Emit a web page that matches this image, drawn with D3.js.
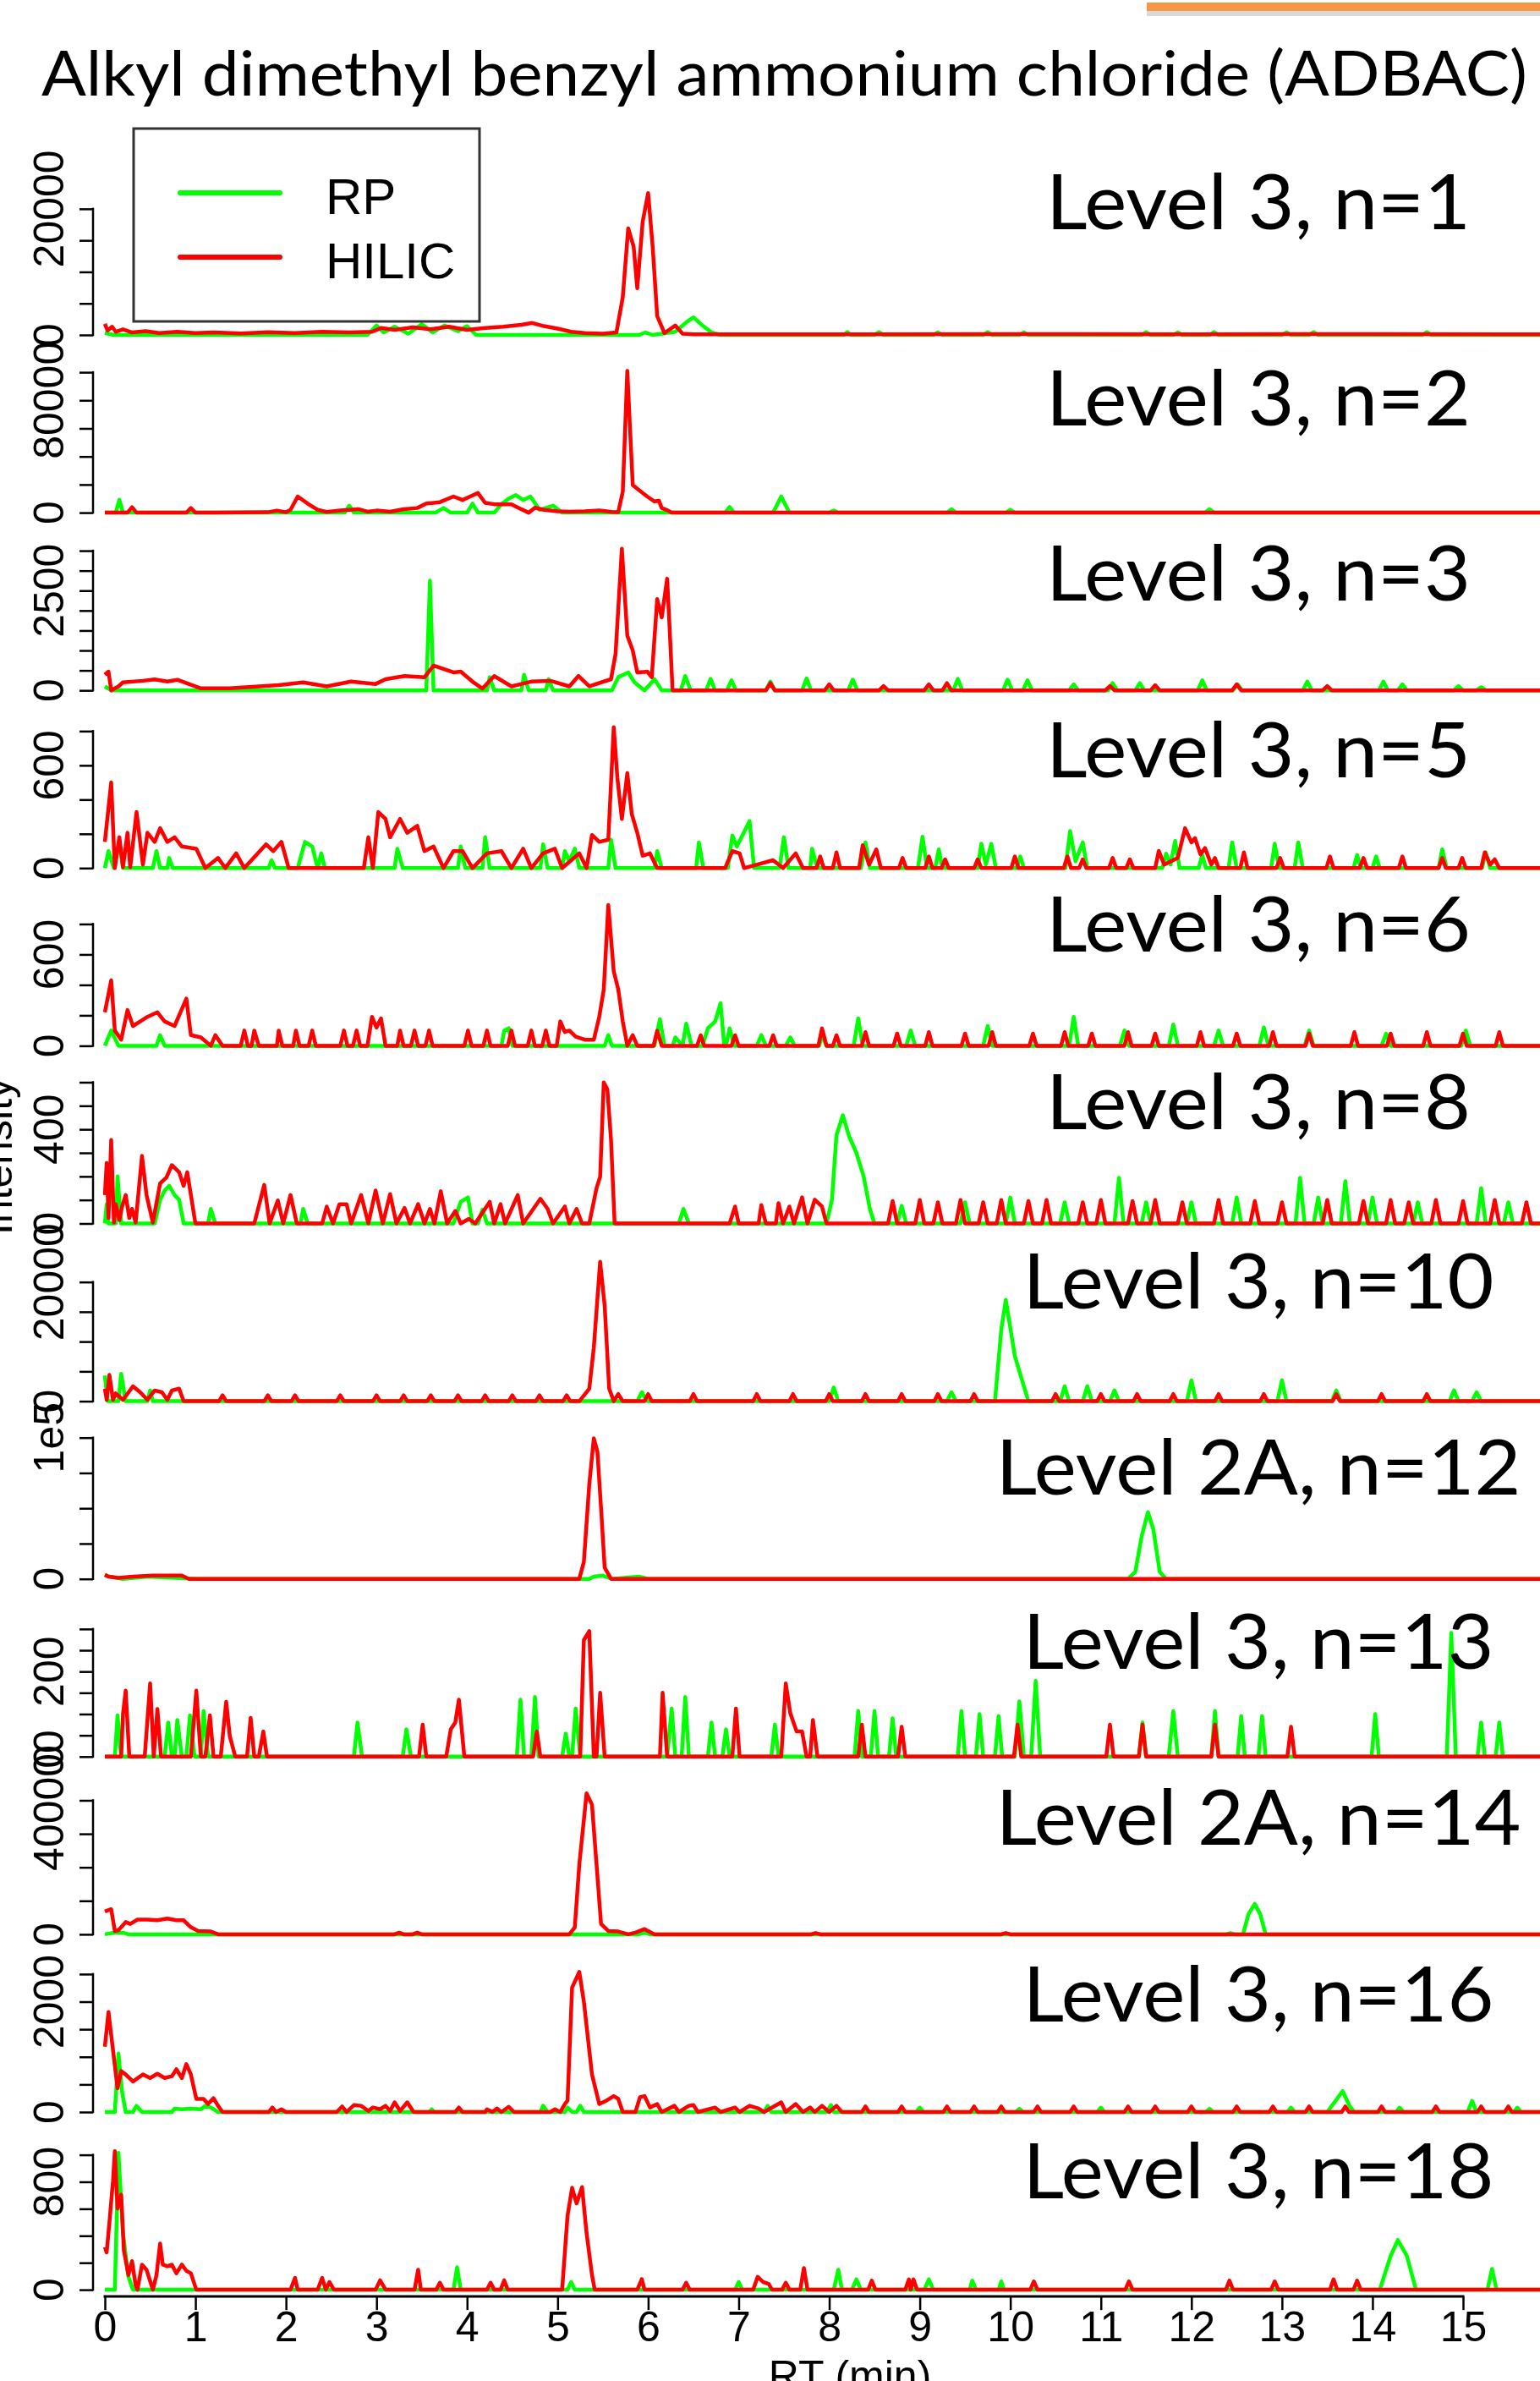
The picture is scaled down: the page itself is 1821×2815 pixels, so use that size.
<!DOCTYPE html>
<html>
<head>
<meta charset="utf-8">
<script src="https://cdn.jsdelivr.net/npm/d3@7"></script>
<style>
  body { margin: 0; background: #fff; }
  svg { display: block; }
</style>
</head>
<body>
<svg id="chart" width="1821" height="2815"></svg>
<script>
// ---- data (RT in minutes, intensity in counts) ----

const TITLE = 'Alkyl dimethyl benzyl ammonium chloride (ADBAC)';
const LEGEND = ['RP', 'HILIC'];
const RT_TICKS = d3.range(0, 16);

const panelLabels = ['Level 3, n=1', 'Level 3, n=2', 'Level 3, n=3', 'Level 3, n=5',
  'Level 3, n=6', 'Level 3, n=8', 'Level 3, n=10', 'Level 2A, n=12',
  'Level 3, n=13', 'Level 2A, n=14', 'Level 3, n=16', 'Level 3, n=18'];

// top of each intensity axis
const yMax = [22400, 100600, 3540, 825, 928, 600, 23700, 100000, 332, 421700, 2560, 1047];

const yTicks = [
  [0, 5000, 10000, 15000, 20000],
  [0, 20000, 40000, 60000, 80000, 100000],
  [0, 500, 1000, 1500, 2000, 2500, 3000, 3500],
  [0, 200, 400, 600, 800],
  [0, 200, 400, 600, 800],
  [0, 100, 200, 300, 400, 500, 600],
  [0, 5000, 10000, 15000, 20000],
  [0, 25000, 50000, 75000, 100000],
  [0, 50, 100, 150, 200, 250, 300],
  [0, 100000, 200000, 300000, 400000],
  [0, 500, 1000, 1500, 2000, 2500],
  [0, 200, 400, 600, 800, 1000]
];

const yLabels = [
  [[0, '0'], [20000, '20000']],
  [[0, '0'], [80000, '80000']],
  [[0, '0'], [2500, '2500']],
  [[0, '0'], [600, '600']],
  [[0, '0'], [600, '600']],
  [[0, '0'], [400, '400']],
  [[0, '0'], [20000, '20000']],
  [[0, '0'], [100000, '1e5']],
  [[0, '0'], [200, '200']],
  [[0, '0'], [400000, '400000']],
  [[0, '0'], [2000, '2000']],
  [[0, '0'], [800, '800']]
];

const rp1 = [[0,300],[0.1,0],[2.9,0],[3.0,1500],[3.08,400],[3.2,1300],[3.35,200],[3.5,1700],[3.62,400],[3.75,1500],[3.9,600],[4.0,1400],[4.1,0],[5.9,0],[5.97,400],[6.05,0],[6.3,500],[6.42,2000],[6.5,2800],[6.6,1500],[6.7,400],[6.8,0],[8.16,0],[8.2,450],[8.24,0],[8.5,0],[8.55,450],[8.6,0],[9.15,0],[9.2,400],[9.25,0],[9.7,0],[9.75,450],[9.8,0],[10.1,0],[10.15,400],[10.2,0],[11.45,0],[11.5,450],[11.55,0],[11.8,0],[11.85,400],[11.9,0],[12.2,0],[12.25,450],[12.3,0],[13.0,0],[13.05,400],[13.1,0],[13.3,0],[13.35,450],[13.4,0],[14.55,0],[14.6,450],[14.65,0],[15.9,0]];
const hilic1 = [[0,1750],[0.03,700],[0.08,1300],[0.12,500],[0.2,900],[0.3,400],[0.45,600],[0.6,300],[0.8,500],[1.0,300],[1.2,400],[1.5,250],[1.8,450],[2.1,300],[2.4,500],[2.7,400],[2.95,500],[3.05,1100],[3.2,800],[3.4,1200],[3.6,900],[3.8,1300],[4.0,800],[4.2,1100],[4.4,1300],[4.6,1600],[4.72,1900],[4.85,1400],[5.0,1000],[5.15,500],[5.3,300],[5.5,200],[5.65,400],[5.72,6000],[5.78,16900],[5.84,14000],[5.88,7400],[5.94,18000],[6.0,22500],[6.05,14000],[6.1,3000],[6.18,300],[6.3,1500],[6.38,200],[6.5,100],[8,100],[10,150],[12,100],[14,150],[15.9,100]];

const rp2 = [[0,0],[0.12,0],[0.16,9200],[0.2,0],[2.65,0],[2.7,5000],[2.75,0],[3.65,0],[3.74,3300],[3.82,0],[4.0,0],[4.06,6500],[4.12,0],[4.3,0],[4.38,6000],[4.46,10000],[4.54,12500],[4.62,9000],[4.7,11500],[4.8,2000],[4.95,5000],[5.05,0],[6.85,0],[6.9,4000],[6.95,0],[7.38,0],[7.47,11500],[7.56,0],[8.0,0],[8.05,1500],[8.1,0],[9.3,0],[9.35,2500],[9.4,0],[9.95,0],[10.0,2000],[10.05,0],[12.15,0],[12.2,2500],[12.25,0],[15.9,0]];
const hilic2 = [[0,0],[0.25,0],[0.3,3900],[0.35,0],[0.9,0],[0.95,3300],[1.0,0],[1.8,300],[1.9,1500],[2.0,300],[2.05,2000],[2.13,11500],[2.25,6000],[2.35,2000],[2.45,500],[2.6,1500],[2.8,2500],[2.9,700],[3.0,1500],[3.15,700],[3.3,2500],[3.45,3300],[3.55,6500],[3.7,7500],[3.85,11500],[3.95,9000],[4.05,12000],[4.12,14000],[4.2,7000],[4.3,6000],[4.49,5900],[4.55,4000],[4.68,0],[4.75,3500],[4.85,2000],[5.0,1000],[5.13,700],[5.3,1000],[5.46,1600],[5.6,500],[5.67,400],[5.72,15000],[5.77,101000],[5.8,60000],[5.83,19700],[5.9,16000],[5.99,11500],[6.07,8000],[6.12,8500],[6.15,3300],[6.22,1500],[6.26,0],[15.9,0]];

const rp3 = [[0,100],[0.07,0],[3.55,0],[3.59,2750],[3.63,0],[4.22,0],[4.25,330],[4.3,0],[4.6,0],[4.63,390],[4.68,0],[4.87,0],[4.9,280],[4.95,0],[5.6,0],[5.67,330],[5.78,450],[5.85,200],[5.96,0],[6.07,280],[6.15,0],[6.36,0],[6.41,360],[6.47,0],[6.64,0],[6.69,290],[6.74,0],[6.87,0],[6.92,250],[6.97,0],[7.3,0],[7.35,220],[7.4,0],[7.7,0],[7.75,300],[7.8,0],[8.21,0],[8.26,270],[8.31,0],[9.37,0],[9.42,290],[9.47,0],[9.92,0],[9.97,270],[10.02,0],[10.14,0],[10.19,250],[10.24,0],[10.65,0],[10.7,150],[10.75,0],[11.08,0],[11.13,180],[11.18,0],[11.38,0],[11.43,180],[11.48,0],[12.07,0],[12.12,250],[12.17,0],[12.46,0],[12.51,150],[12.56,0],[13.23,0],[13.28,220],[13.33,0],[14.07,0],[14.12,220],[14.17,0],[14.28,0],[14.33,150],[14.38,0],[14.9,0],[14.95,110],[15.0,0],[15.15,0],[15.2,80],[15.25,0],[15.9,0]];
const hilic3 = [[0,390],[0.04,470],[0.07,0],[0.15,100],[0.2,200],[0.42,240],[0.55,275],[0.69,220],[0.8,265],[1.06,50],[1.38,50],[1.92,130],[2.19,200],[2.45,100],[2.72,220],[2.99,160],[3.1,280],[3.31,360],[3.53,330],[3.63,620],[3.85,450],[3.93,470],[4.06,220],[4.17,45],[4.3,360],[4.49,100],[4.71,220],[4.92,240],[5.13,100],[5.23,360],[5.35,100],[5.59,280],[5.64,910],[5.71,3550],[5.77,1370],[5.83,1000],[5.88,450],[5.99,470],[6.04,330],[6.1,2290],[6.15,1830],[6.21,2800],[6.23,1900],[6.27,0],[7.3,0],[7.35,180],[7.4,0],[7.95,0],[8.0,150],[8.05,0],[8.55,0],[8.6,110],[8.65,0],[9.05,0],[9.1,150],[9.15,0],[9.25,0],[9.3,180],[9.35,0],[11.05,0],[11.1,110],[11.15,0],[11.55,0],[11.6,130],[11.65,0],[12.45,0],[12.5,150],[12.55,0],[13.45,0],[13.5,110],[13.55,0],[15.9,0]];

const rp4 = [[0,0],[0.04,99],[0.1,0],[0.16,153],[0.2,0],[0.53,0],[0.57,99],[0.61,0],[0.69,0],[0.71,59],[0.75,0],[1.81,0],[1.84,46],[1.88,0],[2.13,0],[2.21,153],[2.29,126],[2.35,0],[2.39,86],[2.43,0],[3.2,0],[3.23,113],[3.29,0],[3.9,0],[3.93,126],[3.98,0],[4.17,0],[4.2,180],[4.25,0],[4.81,0],[4.84,139],[4.89,0],[5.05,0],[5.08,99],[5.13,40],[5.19,113],[5.24,0],[5.56,0],[5.59,166],[5.64,0],[6.07,0],[6.1,99],[6.15,0],[6.53,0],[6.56,150],[6.61,0],[6.88,0],[6.93,190],[6.98,126],[7.12,274],[7.17,0],[7.45,0],[7.5,180],[7.55,0],[7.79,0],[7.81,113],[7.87,0],[8.35,0],[8.4,150],[8.45,0],[8.98,0],[9.03,183],[9.08,0],[9.17,0],[9.21,109],[9.25,0],[9.64,0],[9.68,142],[9.73,20],[9.79,142],[9.84,0],[10.07,0],[10.11,68],[10.15,0],[10.61,0],[10.66,216],[10.72,40],[10.8,150],[10.85,0],[11.68,0],[11.72,84],[11.77,20],[11.82,158],[11.87,0],[12.08,0],[12.12,76],[12.16,0],[12.41,0],[12.45,150],[12.5,0],[12.88,0],[12.92,142],[12.97,0],[13.14,0],[13.18,150],[13.23,0],[13.79,0],[13.83,76],[13.87,0],[14.0,0],[14.04,68],[14.08,0],[14.73,0],[14.77,109],[14.82,0],[15.21,0],[15.25,92],[15.3,0],[15.9,0]];
const hilic4 = [[0,153],[0.07,500],[0.11,0],[0.16,180],[0.2,5],[0.25,206],[0.28,5],[0.35,327],[0.42,20],[0.47,206],[0.55,153],[0.61,233],[0.69,153],[0.77,180],[0.85,126],[1.01,113],[1.11,0],[1.25,59],[1.33,0],[1.45,86],[1.54,0],[1.78,139],[1.86,99],[1.95,153],[2.03,0],[2.86,0],[2.91,180],[2.96,0],[3.02,327],[3.1,287],[3.15,180],[3.26,287],[3.34,206],[3.45,247],[3.53,99],[3.63,126],[3.74,0],[3.85,99],[3.95,99],[4.06,0],[4.22,86],[4.38,99],[4.49,0],[4.62,113],[4.71,0],[4.84,86],[4.97,113],[5.05,0],[5.24,86],[5.32,0],[5.38,193],[5.46,153],[5.56,166],[5.62,823],[5.66,528],[5.71,287],[5.77,555],[5.82,314],[5.88,206],[5.94,72],[6.02,86],[6.1,0],[6.85,0],[6.93,99],[7.01,86],[7.06,0],[7.38,46],[7.49,0],[7.63,86],[7.71,0],[7.86,0],[7.9,68],[7.94,0],[8.04,0],[8.08,92],[8.12,0],[8.33,0],[8.37,134],[8.44,20],[8.52,109],[8.57,0],[8.77,0],[8.81,59],[8.85,0],[9.06,0],[9.1,68],[9.14,0],[9.24,0],[9.28,51],[9.32,0],[9.6,0],[9.64,51],[9.68,0],[10.01,0],[10.05,68],[10.09,0],[10.59,0],[10.63,68],[10.67,0],[10.76,0],[10.8,51],[10.84,0],[11.09,0],[11.13,59],[11.17,0],[11.28,0],[11.32,51],[11.36,0],[11.6,0],[11.64,100],[11.7,20],[11.85,60],[11.93,233],[12.0,150],[12.04,175],[12.1,80],[12.15,117],[12.22,20],[12.26,59],[12.3,0],[12.54,0],[12.58,92],[12.62,0],[12.94,0],[12.98,59],[13.02,0],[13.49,0],[13.53,68],[13.57,0],[13.86,0],[13.9,59],[13.94,0],[14.29,0],[14.33,68],[14.37,0],[14.73,0],[14.77,59],[14.81,0],[14.95,0],[14.99,59],[15.03,0],[15.2,0],[15.24,92],[15.3,20],[15.35,51],[15.4,0],[15.9,0]];

const rp5 = [[0,0],[0.07,100],[0.15,0],[0.57,0],[0.61,70],[0.66,0],[4.38,0],[4.41,100],[4.46,115],[4.5,0],[5.52,0],[5.56,70],[5.6,0],[6.07,0],[6.13,175],[6.18,0],[6.27,0],[6.3,55],[6.38,0],[6.42,145],[6.48,0],[6.6,0],[6.66,115],[6.74,160],[6.8,280],[6.84,0],[6.86,0],[6.9,115],[6.95,0],[7.2,0],[7.25,70],[7.3,0],[7.52,0],[7.57,55],[7.62,0],[7.89,0],[7.92,70],[7.97,0],[8.27,0],[8.32,180],[8.37,0],[8.85,0],[8.9,100],[8.95,0],[9.7,0],[9.75,130],[9.8,0],[10.65,0],[10.7,190],[10.75,0],[11.21,0],[11.26,100],[11.31,0],[11.75,0],[11.8,140],[11.85,0],[12.25,0],[12.3,100],[12.35,0],[12.75,0],[12.8,120],[12.85,0],[13.25,0],[13.3,100],[13.35,0],[14.1,0],[14.15,80],[14.2,0],[14.98,0],[15.03,100],[15.08,0],[15.9,0]];
const hilic5 = [[0,220],[0.07,430],[0.11,100],[0.18,40],[0.25,235],[0.31,130],[0.39,160],[0.47,190],[0.58,220],[0.66,160],[0.77,130],[0.9,310],[0.95,70],[1.06,55],[1.17,0],[1.22,70],[1.3,0],[1.5,0],[1.54,100],[1.58,0],[1.62,0],[1.65,100],[1.7,0],[1.9,0],[1.92,100],[1.96,0],[2.08,0],[2.11,100],[2.15,0],[2.25,0],[2.29,100],[2.33,0],[2.6,0],[2.64,100],[2.68,0],[2.74,0],[2.78,100],[2.82,0],[2.9,0],[2.95,190],[3.0,120],[3.05,180],[3.1,0],[3.23,0],[3.26,100],[3.3,0],[3.38,0],[3.42,100],[3.46,0],[3.54,0],[3.58,100],[3.62,0],[3.97,0],[4.01,100],[4.05,0],[4.18,0],[4.22,100],[4.26,0],[4.45,0],[4.49,100],[4.53,0],[4.67,0],[4.71,100],[4.75,0],[4.83,0],[4.87,100],[4.91,0],[4.99,0],[5.03,160],[5.08,90],[5.13,100],[5.2,60],[5.3,40],[5.4,40],[5.46,190],[5.51,370],[5.56,924],[5.62,490],[5.67,370],[5.72,160],[5.77,0],[5.83,70],[5.88,0],[6.06,0],[6.1,99],[6.15,0],[6.54,0],[6.58,69],[6.62,0],[6.92,0],[6.96,69],[7.0,0],[7.34,0],[7.38,69],[7.42,0],[7.88,0],[7.92,114],[7.97,0],[8.04,0],[8.08,69],[8.12,0],[8.36,0],[8.4,90],[8.44,0],[8.71,0],[8.75,80],[8.79,0],[9.06,0],[9.1,90],[9.14,0],[9.46,0],[9.5,80],[9.54,0],[9.76,0],[9.8,90],[9.84,0],[10.21,0],[10.25,80],[10.29,0],[10.56,0],[10.6,90],[10.64,0],[10.86,0],[10.9,80],[10.94,0],[11.26,0],[11.3,90],[11.34,0],[11.56,0],[11.6,80],[11.64,0],[12.06,0],[12.1,90],[12.14,0],[12.46,0],[12.5,80],[12.54,0],[12.86,0],[12.9,90],[12.94,0],[13.26,0],[13.3,80],[13.34,0],[13.76,0],[13.8,90],[13.84,0],[14.16,0],[14.2,80],[14.24,0],[14.56,0],[14.6,90],[14.64,0],[14.96,0],[15.0,80],[15.04,0],[15.36,0],[15.4,90],[15.44,0],[15.9,0]];

const rp6 = [[0,0],[0.02,82],[0.04,0],[0.12,0],[0.14,200],[0.18,0],[0.55,0],[0.61,101],[0.66,140],[0.71,160],[0.77,121],[0.82,101],[0.87,0],[1.14,0],[1.17,62],[1.22,0],[2.16,0],[2.19,62],[2.24,0],[3.85,0],[3.93,92],[4.01,111],[4.06,0],[4.12,0],[4.17,59],[4.22,0],[6.34,0],[6.39,62],[6.45,0],[7.97,0],[8.03,101],[8.08,375],[8.15,460],[8.22,370],[8.3,300],[8.38,200],[8.45,60],[8.5,0],[8.75,0],[8.8,75],[8.85,0],[9.45,0],[9.5,90],[9.55,0],[9.95,0],[10.0,110],[10.05,0],[10.55,0],[10.6,90],[10.65,0],[11.15,0],[11.2,194],[11.25,0],[11.45,0],[11.5,90],[11.55,0],[11.95,0],[12.0,90],[12.05,0],[12.45,0],[12.5,110],[12.55,0],[13.15,0],[13.2,194],[13.25,0],[13.35,0],[13.4,110],[13.45,0],[13.65,0],[13.7,180],[13.75,0],[13.95,0],[14.0,110],[14.05,0],[14.45,0],[14.5,90],[14.55,0],[15.15,0],[15.2,150],[15.25,0],[15.45,0],[15.5,90],[15.55,0],[15.9,0]];
const hilic6 = [[0,121],[0.02,257],[0.04,23],[0.07,355],[0.1,4],[0.12,82],[0.16,14],[0.19,72],[0.23,121],[0.27,23],[0.3,62],[0.34,4],[0.41,287],[0.46,121],[0.53,4],[0.61,170],[0.68,195],[0.74,248],[0.82,218],[0.87,160],[0.91,218],[1.0,0],[1.65,0],[1.76,164],[1.82,0],[1.91,98],[1.97,0],[2.05,121],[2.12,0],[2.4,0],[2.45,72],[2.52,0],[2.59,82],[2.67,82],[2.72,0],[2.83,121],[2.91,0],[2.99,140],[3.07,0],[3.15,125],[3.22,0],[3.31,66],[3.37,0],[3.46,82],[3.53,0],[3.59,62],[3.64,0],[3.71,137],[3.78,0],[3.87,53],[3.93,0],[4.02,20],[4.09,0],[4.25,92],[4.3,0],[4.37,82],[4.42,0],[4.56,121],[4.62,0],[4.81,105],[4.89,62],[4.95,0],[5.08,72],[5.13,0],[5.21,62],[5.27,0],[5.35,0],[5.43,150],[5.47,199],[5.51,599],[5.55,569],[5.59,355],[5.63,0],[6.9,0],[6.96,72],[7.0,0],[7.22,0],[7.25,78],[7.3,0],[7.41,0],[7.44,86],[7.49,0],[7.56,72],[7.61,0],[7.7,111],[7.76,0],[7.84,101],[7.92,72],[7.97,0],[8.65,0],[8.7,95],[8.75,0],[8.95,0],[9.0,100],[9.05,0],[9.15,0],[9.2,90],[9.25,0],[9.4,0],[9.45,100],[9.5,0],[9.65,0],[9.7,90],[9.75,0],[9.85,0],[9.9,100],[9.95,0],[10.15,0],[10.2,95],[10.25,0],[10.35,0],[10.4,100],[10.45,0],[10.75,0],[10.8,90],[10.85,0],[10.95,0],[11.0,100],[11.05,0],[11.3,0],[11.35,95],[11.4,0],[11.55,0],[11.6,100],[11.65,0],[11.85,0],[11.9,90],[11.95,0],[12.25,0],[12.3,100],[12.35,0],[12.65,0],[12.7,95],[12.75,0],[12.95,0],[13.0,90],[13.05,0],[13.45,0],[13.5,100],[13.55,0],[13.85,0],[13.9,95],[13.95,0],[14.15,0],[14.2,100],[14.25,0],[14.35,0],[14.4,90],[14.45,0],[14.65,0],[14.7,100],[14.75,0],[14.95,0],[15.0,95],[15.05,0],[15.3,0],[15.35,100],[15.4,0],[15.65,0],[15.7,90],[15.75,0],[15.9,0]];

const rp7 = [[0,4300],[0.03,0],[0.15,0],[0.18,4600],[0.23,0],[0.47,0],[0.5,1800],[0.53,0],[5.88,0],[5.93,1500],[5.99,0],[8.0,0],[8.05,2300],[8.1,0],[9.3,0],[9.35,1500],[9.4,0],[9.83,0],[9.9,12000],[9.95,17000],[10.05,7600],[10.12,4000],[10.2,0],[10.55,0],[10.6,2500],[10.65,0],[10.8,0],[10.85,2500],[10.9,0],[11.1,0],[11.15,1800],[11.2,0],[11.95,0],[12.0,3500],[12.05,0],[12.95,0],[13.0,3500],[13.05,0],[13.55,0],[13.6,1800],[13.65,0],[14.85,0],[14.9,1800],[14.95,0],[15.1,0],[15.15,1500],[15.2,0],[15.9,0]];
const hilic7 = [[0,2100],[0.02,230],[0.05,4400],[0.09,230],[0.12,1300],[0.2,230],[0.31,2500],[0.39,1500],[0.47,230],[0.55,1800],[0.63,1500],[0.69,230],[0.74,1800],[0.82,2100],[0.87,0],[1.26,0],[1.3,1000],[1.34,0],[1.76,0],[1.8,1000],[1.84,0],[2.06,0],[2.1,1000],[2.14,0],[2.56,0],[2.6,1000],[2.64,0],[2.96,0],[3.0,1000],[3.04,0],[3.26,0],[3.3,1000],[3.34,0],[3.56,0],[3.6,1000],[3.64,0],[3.86,0],[3.9,1000],[3.94,0],[4.16,0],[4.2,1000],[4.24,0],[4.46,0],[4.5,1000],[4.54,0],[4.76,0],[4.8,1000],[4.84,0],[5.06,0],[5.1,1000],[5.14,0],[5.24,0],[5.35,2100],[5.4,9000],[5.47,23400],[5.52,16000],[5.57,2100],[5.62,0],[5.67,1200],[5.72,0],[5.96,0],[6.0,1200],[6.04,0],[6.46,0],[6.5,1200],[6.54,0],[7.16,0],[7.2,1200],[7.24,0],[7.56,0],[7.6,1200],[7.64,0],[7.96,0],[8.0,1200],[8.04,0],[8.36,0],[8.4,1200],[8.44,0],[8.76,0],[8.8,1200],[8.84,0],[9.16,0],[9.2,1200],[9.24,0],[9.56,0],[9.6,1200],[9.64,0],[10.46,0],[10.5,1200],[10.54,0],[10.96,0],[11.0,1200],[11.04,0],[11.36,0],[11.4,1200],[11.44,0],[11.76,0],[11.8,1200],[11.84,0],[12.26,0],[12.3,1200],[12.34,0],[12.76,0],[12.8,1200],[12.84,0],[13.56,0],[13.6,1200],[13.64,0],[14.06,0],[14.1,1200],[14.14,0],[14.56,0],[14.6,1200],[14.64,0],[15.9,0]];

const rp8 = [[0,2300],[0.2,0],[0.47,1600],[1.03,0],[5.35,0],[5.4,1600],[5.5,2300],[5.6,0],[5.9,1600],[6.0,0],[11.3,0],[11.38,5000],[11.45,30000],[11.52,47300],[11.58,35000],[11.65,5000],[11.72,0],[15.9,0]];
const hilic8 = [[0,2900],[0.04,1600],[0.15,700],[0.31,1600],[0.53,2300],[0.85,2300],[0.93,0],[5.24,0],[5.29,12000],[5.35,67000],[5.4,99500],[5.44,90000],[5.48,50000],[5.52,8000],[5.59,0],[15.9,0]];

const rp9 = [[0,0],[0.11,0],[0.14,97],[0.18,0],[0.66,0],[0.7,80],[0.74,0],[0.77,0],[0.8,86],[0.85,0],[0.9,0],[0.94,97],[0.99,0],[1.06,0],[1.09,107],[1.14,0],[2.75,0],[2.79,80],[2.84,0],[3.29,0],[3.33,64],[3.38,0],[4.55,0],[4.59,134],[4.63,0],[4.71,0],[4.75,140],[4.79,0],[5.05,0],[5.09,54],[5.13,0],[5.16,0],[5.2,113],[5.25,0],[6.21,0],[6.26,113],[6.3,0],[6.37,0],[6.41,140],[6.45,0],[6.66,0],[6.7,80],[6.74,0],[6.82,0],[6.86,64],[6.9,0],[7.36,0],[7.4,75],[7.44,0],[8.28,0],[8.32,107],[8.36,0],[8.46,0],[8.5,107],[8.54,0],[8.66,0],[8.7,90],[8.74,0],[9.42,0],[9.46,107],[9.5,0],[9.62,0],[9.66,100],[9.7,0],[9.83,0],[9.87,95],[9.91,0],[10.05,0],[10.1,130],[10.15,0],[10.23,0],[10.28,178],[10.33,0],[11.42,0],[11.46,80],[11.5,0],[11.75,0],[11.8,107],[11.85,0],[12.22,0],[12.26,107],[12.3,0],[12.51,0],[12.55,95],[12.59,0],[12.74,0],[12.78,95],[12.82,0],[13.99,0],[14.03,100],[14.07,0],[14.82,0],[14.87,291],[14.92,0],[15.16,0],[15.2,80],[15.24,0],[15.36,0],[15.4,80],[15.44,0],[15.9,0]];
const hilic9 = [[0,0],[0.18,0],[0.2,100],[0.23,155],[0.27,0],[0.44,0],[0.5,172],[0.54,0],[0.58,112],[0.62,0],[0.95,0],[1.01,155],[1.06,0],[1.11,0],[1.16,97],[1.2,0],[1.28,0],[1.34,129],[1.38,48],[1.44,0],[1.57,0],[1.61,91],[1.65,0],[1.7,0],[1.75,59],[1.79,0],[3.47,0],[3.51,75],[3.55,0],[3.77,0],[3.82,64],[3.87,80],[3.91,134],[3.97,0],[4.73,0],[4.77,59],[4.81,0],[5.25,0],[5.29,274],[5.35,295],[5.4,0],[5.43,0],[5.47,150],[5.52,0],[6.13,0],[6.16,150],[6.21,0],[6.93,0],[6.97,113],[7.01,0],[7.47,0],[7.52,172],[7.57,102],[7.64,59],[7.7,59],[7.75,0],[7.79,0],[7.82,86],[7.87,0],[8.32,0],[8.36,75],[8.4,0],[8.76,0],[8.8,70],[8.84,0],[10.04,0],[10.08,75],[10.12,0],[11.06,0],[11.1,75],[11.14,0],[11.42,0],[11.46,75],[11.5,0],[12.22,0],[12.26,75],[12.3,0],[13.06,0],[13.1,70],[13.14,0],[15.9,0]];

const rp10 = [[0,0],[0.1,5000],[0.2,5000],[0.26,0],[5.9,0],[5.96,5000],[6.02,0],[12.38,0],[12.43,4000],[12.48,0],[12.57,0],[12.63,60000],[12.7,91000],[12.76,60000],[12.82,0],[15.9,0]];
const hilic10 = [[0,68000],[0.07,75000],[0.11,10000],[0.15,12500],[0.23,36600],[0.28,31000],[0.36,44000],[0.47,44000],[0.58,42000],[0.69,47000],[0.79,42000],[0.87,42000],[0.95,21000],[1.03,10000],[1.17,8400],[1.25,0],[3.2,0],[3.25,5000],[3.3,0],[3.4,0],[3.45,5000],[3.5,0],[5.13,0],[5.19,21000],[5.24,209000],[5.32,421000],[5.38,387000],[5.43,209000],[5.48,31000],[5.56,10000],[5.67,8400],[5.78,0],[5.86,5000],[5.96,15700],[6.07,0],[7.8,0],[7.85,4000],[7.9,0],[9.9,0],[9.95,4000],[10.0,0],[15.9,0]];

const rp11 = [[0,0],[0.11,0],[0.15,1060],[0.19,365],[0.23,0],[0.31,0],[0.35,113],[0.41,0],[0.74,0],[0.77,63],[0.85,50],[0.95,63],[1.06,50],[1.11,113],[1.17,82],[1.25,0],[3.58,0],[3.61,50],[3.64,0],[4.81,0],[4.84,113],[4.89,0],[5.08,0],[5.11,82],[5.16,0],[5.21,0],[5.25,113],[5.29,0],[7.28,0],[7.32,113],[7.36,0],[7.97,0],[8.02,126],[8.05,0],[8.96,0],[9.0,80],[9.04,0],[10.06,0],[10.1,60],[10.14,0],[10.96,0],[11.0,80],[11.04,0],[12.16,0],[12.2,60],[12.24,0],[13.06,0],[13.1,80],[13.14,0],[13.5,0],[13.6,220],[13.67,380],[13.75,100],[13.8,0],[14.26,0],[14.3,80],[14.34,0],[15.05,0],[15.1,200],[15.15,0],[15.56,0],[15.6,80],[15.64,0],[15.9,0]];
const hilic11 = [[0,1184],[0.04,1814],[0.09,1121],[0.14,428],[0.18,743],[0.23,680],[0.31,554],[0.42,680],[0.5,617],[0.58,693],[0.66,617],[0.74,649],[0.79,775],[0.85,617],[0.9,869],[0.95,680],[1.01,239],[1.09,239],[1.14,145],[1.2,252],[1.25,113],[1.3,0],[1.81,0],[1.85,82],[1.89,0],[1.95,50],[2.0,0],[2.56,0],[2.62,100],[2.67,0],[2.75,126],[2.83,113],[2.91,19],[2.96,82],[3.04,50],[3.1,113],[3.15,19],[3.2,176],[3.26,19],[3.34,176],[3.41,0],[3.87,0],[3.91,82],[3.95,0],[4.2,0],[4.22,50],[4.28,0],[4.33,63],[4.38,0],[4.46,95],[4.52,0],[4.92,0],[4.97,50],[5.03,0],[5.08,145],[5.11,208],[5.16,2255],[5.24,2540],[5.29,2003],[5.38,680],[5.46,145],[5.54,208],[5.62,290],[5.67,239],[5.72,0],[5.86,0],[5.91,271],[5.96,290],[6.02,82],[6.1,145],[6.15,0],[6.29,113],[6.34,0],[6.45,113],[6.5,126],[6.55,0],[6.74,82],[6.8,0],[6.96,82],[7.01,0],[7.12,113],[7.22,63],[7.28,0],[7.47,176],[7.52,0],[7.63,145],[7.71,0],[7.79,82],[7.84,0],[7.92,113],[8.0,0],[8.08,113],[8.14,0],[8.36,0],[8.4,100],[8.44,0],[8.76,0],[8.8,100],[8.84,0],[9.26,0],[9.3,100],[9.34,0],[9.56,0],[9.6,100],[9.64,0],[9.86,0],[9.9,100],[9.94,0],[10.26,0],[10.3,100],[10.34,0],[10.66,0],[10.7,100],[10.74,0],[11.26,0],[11.3,100],[11.34,0],[11.56,0],[11.6,100],[11.64,0],[11.96,0],[12.0,100],[12.04,0],[12.46,0],[12.5,100],[12.54,0],[12.86,0],[12.9,100],[12.94,0],[13.26,0],[13.3,100],[13.34,0],[13.66,0],[13.7,100],[13.74,0],[14.06,0],[14.1,100],[14.14,0],[14.66,0],[14.7,100],[14.74,0],[15.16,0],[15.2,100],[15.24,0],[15.46,0],[15.5,100],[15.54,0],[15.9,0]];

const rp12 = [[0,0],[0.11,0],[0.15,1015],[0.2,420],[0.26,96],[0.31,0],[3.85,0],[3.89,166],[3.93,0],[5.11,0],[5.15,57],[5.19,0],[6.96,0],[7.0,57],[7.04,0],[8.05,0],[8.1,148],[8.14,0],[8.25,0],[8.3,77],[8.35,0],[9.05,0],[9.1,77],[9.15,0],[9.55,0],[9.58,67],[9.62,0],[9.87,0],[9.9,62],[9.93,0],[14.08,0],[14.2,250],[14.28,368],[14.38,250],[14.48,0],[15.27,0],[15.32,154],[15.37,0],[15.9,0]];
const hilic12 = [[0,316],[0.02,277],[0.05,497],[0.09,808],[0.11,1028],[0.14,601],[0.18,705],[0.21,290],[0.26,109],[0.3,212],[0.34,31],[0.36,0],[0.41,186],[0.46,148],[0.53,0],[0.57,109],[0.61,342],[0.64,186],[0.69,174],[0.74,186],[0.79,122],[0.85,186],[0.9,140],[0.95,122],[1.01,0],[2.05,0],[2.1,88],[2.13,0],[2.35,0],[2.4,88],[2.44,0],[2.48,57],[2.53,0],[2.99,0],[3.04,70],[3.1,0],[3.42,0],[3.46,148],[3.49,0],[3.66,0],[3.7,52],[3.74,0],[4.22,0],[4.26,52],[4.3,0],[4.37,0],[4.41,70],[4.45,0],[5.05,0],[5.11,549],[5.16,756],[5.21,640],[5.27,761],[5.32,420],[5.38,109],[5.41,0],[5.88,0],[5.93,78],[5.96,0],[6.38,0],[6.42,52],[6.46,0],[7.16,0],[7.21,96],[7.27,57],[7.33,44],[7.37,0],[7.48,0],[7.52,52],[7.56,0],[7.68,0],[7.72,161],[7.76,0],[8.43,0],[8.47,67],[8.51,0],[8.84,0],[8.88,77],[8.9,0],[8.93,77],[8.97,0],[10.22,0],[10.26,62],[10.3,0],[11.27,0],[11.31,62],[11.35,0],[12.38,0],[12.42,67],[12.46,0],[12.88,0],[12.92,62],[12.96,0],[13.53,0],[13.57,77],[13.61,0],[13.79,0],[13.83,67],[13.87,0],[15.9,0]];

const rpSeries = [rp1, rp2, rp3, rp4, rp5, rp6, rp7, rp8, rp9, rp10, rp11, rp12];
const hilicSeries = [hilic1, hilic2, hilic3, hilic4, hilic5, hilic6, hilic7, hilic8, hilic9, hilic10, hilic11, hilic12];

// ---- layout ----
const W = 1821, H = 2815;
const ZERO_TOP = 396;      // baseline of the first panel
const PANEL_STEP = 210.1;  // distance between panel baselines
const PANEL_H = 167;       // pixels from baseline to yMax
const AXIS_X = 110;
const labelRise = [125, 103, 106, 107, 111, 112, 110, 100, 104, 106, 107, 108];

const GREEN = '#00ff00', RED = '#ff0000';
const LINE_W = 4.5;
const AXIS_FONT = '"Liberation Sans", Arial, Helvetica, sans-serif';
const SLIDE_FONT = 'Lato, "Open Sans", sans-serif';

const svg = d3.select('#chart');

svg.append('rect').attr('width', W).attr('height', H).attr('fill', '#fff');

// orange slide accent top right
svg.append('rect').attr('x', 1356).attr('y', 13).attr('width', W - 1356).attr('height', 6).attr('fill', '#d9d9d9');
svg.append('rect').attr('x', 1356).attr('y', 3).attr('width', W - 1356).attr('height', 10).attr('fill', '#f79646');

// title
svg.append('text')
  .attr('x', 49).attr('y', 113)
  .attr('font-family', SLIDE_FONT).attr('font-size', 74)
  .attr('textLength', 1757).attr('lengthAdjust', 'spacingAndGlyphs')
  .text(TITLE);

const x = d3.scaleLinear().domain([0, 15]).range([124, 1730]);

// measure the label font once so every panel label gets the same narrow width
const probe = svg.append('text').attr('font-family', SLIDE_FONT).attr('font-size', 92).text(panelLabels[0]);
const labelScale = 502 / probe.node().getComputedTextLength();
probe.remove();

panelLabels.forEach((label, i) => {
  const zero = ZERO_TOP + PANEL_STEP * i;
  const y = d3.scaleLinear().domain([0, yMax[i]]).range([zero, zero - PANEL_H]);
  const g = svg.append('g');

  // y axis: ticks with d3, line only between first and last tick like R
  const ax = g.append('g')
    .attr('transform', `translate(${AXIS_X},0)`)
    .call(d3.axisLeft(y).tickValues(yTicks[i]).tickSize(16).tickSizeOuter(0).tickFormat(''));
  ax.select('.domain').remove();
  ax.selectAll('.tick line').attr('stroke', '#000').attr('stroke-width', 2.5);
  const tk = yTicks[i];
  ax.append('line')
    .attr('x1', 0).attr('x2', 0)
    .attr('y1', y(tk[0]) + 1.25).attr('y2', y(tk[tk.length - 1]) - 1.25)
    .attr('stroke', '#000').attr('stroke-width', 2.5);

  g.selectAll('.ylab')
    .data(yLabels[i])
    .join('text')
    .attr('transform', d => `translate(75,${y(d[0])}) rotate(-90)`)
    .attr('text-anchor', 'middle')
    .attr('font-family', AXIS_FONT).attr('font-size', 50)
    .text(d => d[1]);

  const line = d3.line().x(d => x(d[0])).y(d => y(d[1]));

  g.append('path').datum(rpSeries[i])
    .attr('d', line).attr('fill', 'none')
    .attr('stroke', GREEN).attr('stroke-width', LINE_W).attr('stroke-linejoin', 'round');
  g.append('path').datum(hilicSeries[i])
    .attr('d', line).attr('fill', 'none')
    .attr('stroke', RED).attr('stroke-width', LINE_W).attr('stroke-linejoin', 'round');

  g.append('text')
    .attr('transform', `translate(1488,${zero - labelRise[i]}) scale(${labelScale},1)`)
    .attr('text-anchor', 'middle')
    .attr('font-family', SLIDE_FONT).attr('font-size', 92)
    .text(label);
});

// x axis under the last panel
const lastZero = ZERO_TOP + PANEL_STEP * 11;
const xAxisY = lastZero + 8;
const xa = svg.append('g')
  .attr('transform', `translate(0,${xAxisY})`)
  .call(d3.axisBottom(x).tickValues(RT_TICKS).tickSize(16).tickSizeOuter(0).tickFormat(d3.format('d')));
xa.select('.domain').remove();
xa.append('line').attr('x1', x(0) - 1.5).attr('x2', x(15) + 1.5).attr('stroke', '#000').attr('stroke-width', 3);
xa.selectAll('.tick line').attr('stroke', '#000').attr('stroke-width', 2.5);
xa.selectAll('.tick text')
  .attr('y', 53).attr('dy', null)
  .attr('fill', '#000')
  .attr('font-family', AXIS_FONT).attr('font-size', 50);

svg.append('text')
  .attr('x', 1005).attr('y', xAxisY + 111)
  .attr('text-anchor', 'middle')
  .attr('font-family', AXIS_FONT).attr('font-size', 50)
  .text('RT (min)');

svg.append('text')
  .attr('transform', 'translate(14,1367) rotate(-90)')
  .attr('text-anchor', 'middle')
  .attr('font-family', AXIS_FONT).attr('font-size', 50)
  .text('Intensity');

// legend
const lg = svg.append('g');
lg.append('rect')
  .attr('x', 158).attr('y', 152).attr('width', 409).attr('height', 228)
  .attr('fill', '#fff').attr('stroke', '#333').attr('stroke-width', 3);
[GREEN, RED].forEach((c, k) => {
  const ly = 228 + k * 76;
  lg.append('line').attr('x1', 213).attr('x2', 331).attr('y1', ly).attr('y2', ly)
    .attr('stroke', c).attr('stroke-width', 6).attr('stroke-linecap', 'round');
  lg.append('text').attr('x', 385).attr('y', ly + 25)
    .attr('font-family', AXIS_FONT).attr('font-size', 60)
    .text(LEGEND[k]);
});
</script>
</body>
</html>
